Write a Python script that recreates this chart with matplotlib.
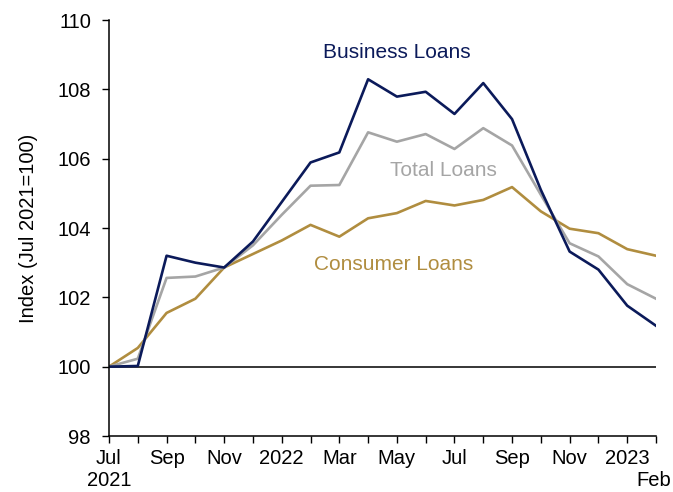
import matplotlib
matplotlib.use("Agg")
import matplotlib.pyplot as plt
import matplotlib.transforms as mtransforms

plt.rcParams['font.family'] = ['Liberation Sans', 'DejaVu Sans']

months = ['Jul\n2021', 'Aug', 'Sep', 'Oct', 'Nov', 'Dec', '2022', 'Feb', 'Mar', 'Apr',
          'May', 'Jun', 'Jul', 'Aug', 'Sep', 'Oct', 'Nov', 'Dec', '2023', 'Feb']
shown = [0, 2, 4, 6, 8, 10, 12, 14, 16, 18, 19]

business = [100.0, 100.02, 103.2, 103.0, 102.86, 103.61, 104.75, 105.89, 106.18, 108.29,
            107.79, 107.93, 107.29, 108.18, 107.14, 105.1, 103.32, 102.8, 101.76, 101.18]
total = [100.0, 100.23, 102.56, 102.6, 102.86, 103.5, 104.38, 105.22, 105.24, 106.76,
         106.49, 106.71, 106.28, 106.88, 106.38, 104.96, 103.56, 103.18, 102.38, 101.96]
consumer = [100.0, 100.54, 101.55, 101.96, 102.86, 103.25, 103.64, 104.09, 103.75, 104.28,
            104.43, 104.78, 104.65, 104.81, 105.18, 104.48, 103.98, 103.85, 103.39, 103.2]

navy = '#0B1A5A'
grey = '#A5A5A5'
gold = '#B08D3F'

fig = plt.figure(figsize=(6.73, 4.92), dpi=100)
ax = fig.add_axes([109/673, 56/492, 547/673, 416/492])

x = list(range(len(months)))
ax.plot(x, consumer, color=gold, lw=1.9)
ax.plot(x, total, color=grey, lw=1.9)
ax.plot(x, business, color=navy, lw=1.9)
ax.axhline(100, color='black', lw=1.1, zorder=1)

ax.set_xlim(0, 19)
ax.set_ylim(98, 110)
ax.set_yticks(range(98, 111, 2))
ax.set_xticks(x)
ax.set_xticklabels([m if i in shown else '' for i, m in enumerate(months)])
ax.tick_params(labelsize=14.5, length=5, width=1, colors='black')
ax.tick_params(axis='y', pad=8)
ax.tick_params(axis='x', pad=4)

# last label (Feb) sits one line lower, under 2023, pulled in from the edge
lab = ax.get_xticklabels()[19]
lab.set_horizontalalignment('right')
lab.set_transform(lab.get_transform() + mtransforms.ScaledTranslation(15/100, -16/72, fig.dpi_scale_trans))

for s in ['top', 'right']:
    ax.spines[s].set_visible(False)
for s in ['left', 'bottom']:
    ax.spines[s].set_linewidth(1.1)

ax.set_ylabel('Index (Jul 2021=100)', fontsize=14.5, labelpad=14)

ax.text(10.0, 109.05, 'Business Loans', color=navy, fontsize=15, ha='center', va='center')
ax.text(11.6, 105.65, 'Total Loans', color=grey, fontsize=15, ha='center', va='center')
ax.text(9.9, 102.95, 'Consumer Loans', color=gold, fontsize=15, ha='center', va='center')

fig.savefig('out.png', dpi=100)
